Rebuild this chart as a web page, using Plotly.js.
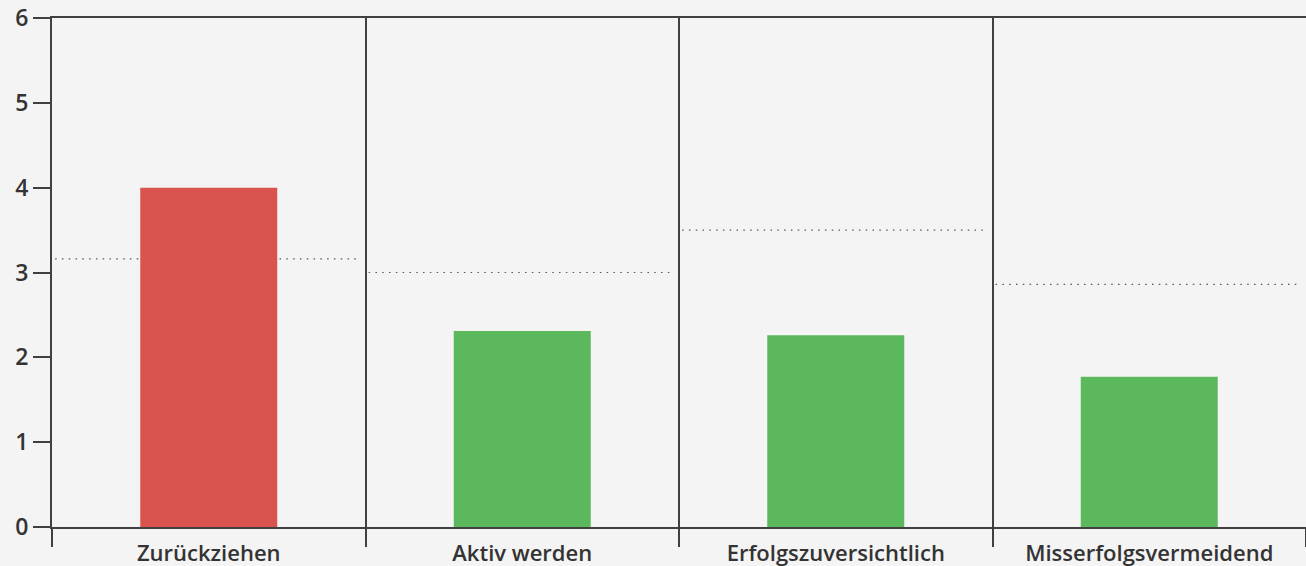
<!DOCTYPE html>
<html>
<head>
<meta charset="utf-8">
<script src="https://cdn.plot.ly/plotly-3.0.1.min.js"></script>
<style>
html,body{margin:0;padding:0;background:#f4f4f4;}
#chart{width:1306px;height:566px;}
</style>
</head>
<body>
<div id="chart"></div>
<script>
const categories = ["Zurückziehen", "Aktiv werden", "Erfolgszuversichtlich", "Misserfolgsvermeidend"];
const values = [4.0, 2.31, 2.26, 1.77];
const referenceValues = [3.16, 3.0, 3.5, 2.86];
const barColors = ["#d9534f", "#5cb85c", "#5cb85c", "#5cb85c"];
const yTicks = [0, 1, 2, 3, 4, 5, 6];

const axisColor = "#404040";
const textColor = "#333333";

const shapes = referenceValues.map((v, i) => ({
  type: "line", xref: "x", yref: "y",
  x0: i - 0.49, x1: i + 0.485, y0: v, y1: v,
  layer: "below",
  line: {color: "#555555", width: 1.2, dash: "1.5px,5.3px"}
}));

const data = [{
  type: "bar",
  x: categories,
  y: values,
  width: 0.437,
  marker: {color: barColors, line: {width: 0}},
  hoverinfo: "x+y"
}];

const layout = {
  width: 1306, height: 566,
  margin: {l: 52, r: 0, t: 18, b: 39, pad: 0},
  paper_bgcolor: "#f4f4f4",
  plot_bgcolor: "#f4f4f4",
  showlegend: false,
  font: {family: "Open Sans", color: textColor},
  xaxis: {
    type: "category",
    range: [-0.5, 3.5],
    tickson: "boundaries",
    ticks: "outside", ticklen: 18, tickwidth: 2, tickcolor: axisColor,
    showgrid: true, gridcolor: axisColor, gridwidth: 2,
    showline: true, linecolor: axisColor, linewidth: 2, mirror: true,
    zeroline: false,
    ticklabelstandoff: 6,
    tickfont: {family: "Open Sans", size: 22, weight: 600, color: textColor},
    fixedrange: true
  },
  yaxis: {
    range: [0, 6],
    tickvals: yTicks,
    ticktext: yTicks.map(String),
    ticks: "outside", ticklen: 17, tickwidth: 2, tickcolor: axisColor,
    showgrid: false, zeroline: false,
    showline: true, linecolor: axisColor, linewidth: 2,
    tickfont: {family: "Open Sans", size: 23, weight: 600, color: textColor},
    fixedrange: true
  },
  shapes: shapes
};

Plotly.newPlot("chart", data, layout, {displayModeBar: false, staticPlot: true});
</script>
</body>
</html>
